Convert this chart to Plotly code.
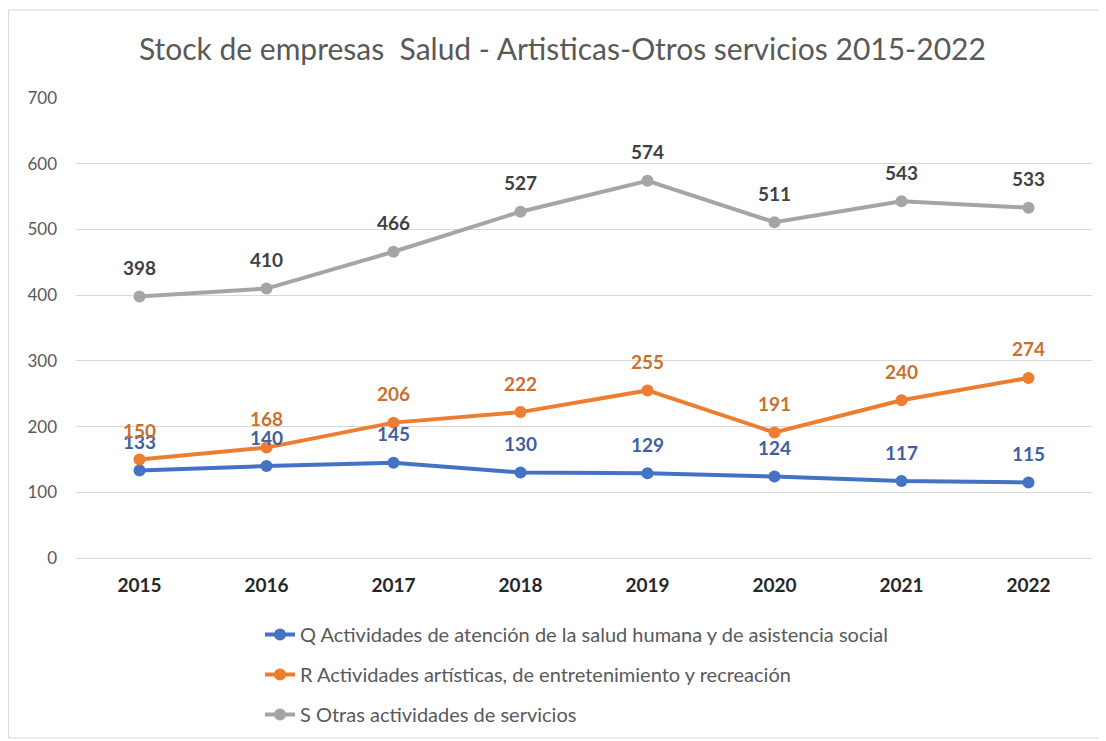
import plotly.graph_objects as go

years = ["2015", "2016", "2017", "2018", "2019", "2020", "2021", "2022"]
q_vals = [133, 140, 145, 130, 129, 124, 117, 115]
r_vals = [150, 168, 206, 222, 255, 191, 240, 274]
s_vals = [398, 410, 466, 527, 574, 511, 543, 533]
y_ticks = [0, 100, 200, 300, 400, 500, 600, 700]

names = [
    "Q Actividades de atención de la salud humana y de asistencia social",
    "R Actividades artísticas, de entretenimiento y recreación",
    "S Otras actividades de servicios",
]
line_colors = ["#4472c4", "#ed7d31", "#a5a5a5"]
label_colors = ["#3f5f9f", "#c9702f", "#404040"]
series = [q_vals, r_vals, s_vals]

FONT = "Lato"

OFF = 8  # browser body margin
W, H = 1106 - OFF, 741 - OFF
ML, MR, MT, MB = 76 - OFF, 14, 98 - OFF, 183
PW = W - ML - MR
PH = H - MT - MB

# convert screenshot pixel coords to paper coords
def px_x(px):
    return (px - OFF - ML) / PW

def px_y(py):
    return (H - MB - (py - OFF)) / PH

fig = go.Figure()
for i, (name, vals) in enumerate(zip(names, series)):
    fig.add_trace(go.Scatter(
        x=years, y=vals, name=name, mode="lines+markers",
        line=dict(color=line_colors[i], width=4),
        marker=dict(color=line_colors[i], size=12),
        legendgroup=f"g{i}",
    ))

annotations = []
for i, vals in enumerate(series):
    for j, v in enumerate(vals):
        annotations.append(dict(
            x=j, y=v, xref="x", yref="y", text=f"<b>{v}</b>",
            showarrow=False, yshift=29,
            font=dict(family=FONT, size=19, color=label_colors[i]),
        ))

annotations.append(dict(
    xref="paper", yref="paper", x=px_x(562), y=px_y(48),
    text="Stock de empresas  Salud - Artisticas-Otros servicios 2015-2022",
    showarrow=False, xanchor="center", yanchor="middle",
    font=dict(family=FONT, size=30, color="#595959"),
))

fig.update_layout(
    width=W, height=H,
    margin=dict(l=ML, r=MR, t=MT, b=MB, autoexpand=False),
    paper_bgcolor="white",
    plot_bgcolor="rgba(0,0,0,0)",
    showlegend=True,
    annotations=annotations,
    shapes=[dict(
        type="rect", xref="paper", yref="paper",
        x0=px_x(8.5), x1=px_x(1112), y0=px_y(738), y1=px_y(10),
        fillcolor="rgba(0,0,0,0)", line=dict(color="#d9d9d9", width=1), layer="below",
    )],
    legend=dict(
        x=px_x(260), y=px_y(615), xanchor="left", yanchor="top",
        orientation="v", tracegroupgap=11,
        font=dict(family=FONT, size=20, color="#595959"),
        bgcolor="rgba(0,0,0,0)",
    ),
    xaxis=dict(
        type="category", range=[-0.5, 7.5], showgrid=False,
        showline=False, zeroline=False, ticks="",
        tickfont=dict(family=FONT, size=19, color="#262626", weight="bold"),
        ticklabelstandoff=14,
    ),
    yaxis=dict(
        range=[0, 700], tickvals=y_ticks, showgrid=True,
        gridcolor="#d9d9d9", gridwidth=1, zeroline=True,
        zerolinecolor="#d9d9d9", zerolinewidth=1,
        showline=False, ticks="",
        tickfont=dict(family=FONT, size=17, color="#595959"),
        ticklabelstandoff=18,
    ),
)

fig.write_html("out.html")
